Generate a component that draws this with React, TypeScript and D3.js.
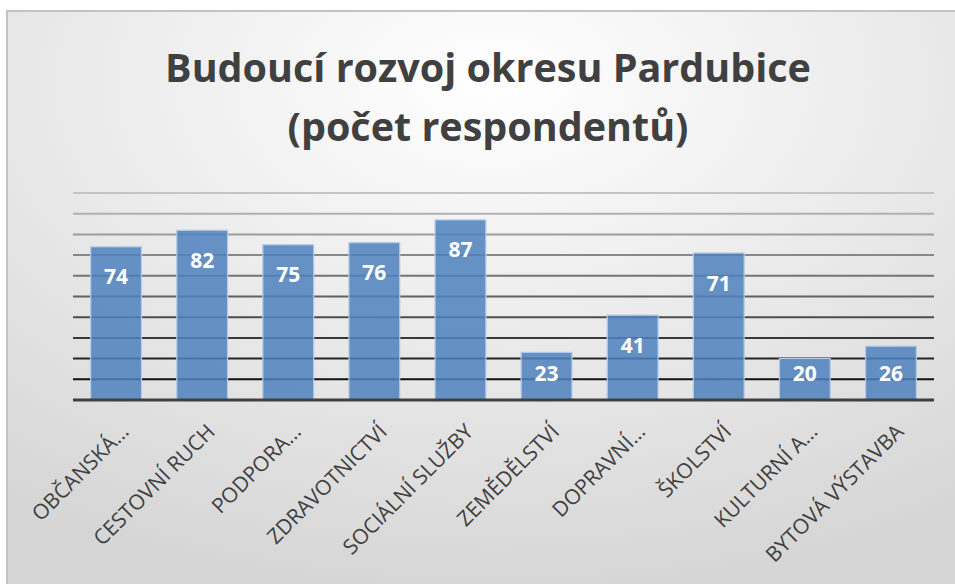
import React from 'react'
import * as d3 from 'd3'

const categories = [
  'OBČANSKÁ…',
  'CESTOVNÍ RUCH',
  'PODPORA…',
  'ZDRAVOTNICTVÍ',
  'SOCIÁLNÍ SLUŽBY',
  'ZEMĚDĚLSTVÍ',
  'DOPRAVNÍ…',
  'ŠKOLSTVÍ',
  'KULTURNÍ A…',
  'BYTOVÁ VÝSTAVBA',
]
const values = [74, 82, 75, 76, 87, 23, 41, 71, 20, 26]
const gridTicks = [10, 20, 30, 40, 50, 60, 70, 80, 90, 100]
const titleLines = ['Budoucí rozvoj okresu Pardubice', '(počet respondentů)']

const W = 955
const H = 584
const layout = { left: 73, right: 934, top: 193, bottom: 400 }

export default function App() {
  const x = d3.scaleBand()
    .domain(categories)
    .range([layout.left, layout.right])
    .paddingInner(0.41)
    .paddingOuter(0.205)

  const y = d3.scaleLinear()
    .domain([0, 100])
    .range([layout.bottom, layout.top])

  // gridlines go from light gray at the top to black near the axis
  const gridColor = d3.scaleLinear<string>()
    .domain([100, 10])
    .range(['#c4c4c4', '#111111'])

  const font = '"Open Sans", Lato, sans-serif'

  return (
    <svg width={W} height={H} style={{ position: 'absolute', left: 0, top: 0 }}>
      <defs>
        <radialGradient id="bg" cx="0.5" cy="0.12" r="0.85" fx="0.5" fy="0.12">
          <stop offset="0" stopColor="#ffffff" />
          <stop offset="1" stopColor="#d6d6d6" />
        </radialGradient>
      </defs>
      <rect x={7} y={11} width={970} height={600} fill="url(#bg)" stroke="#c3c3c3" strokeWidth={2} />

      {titleLines.map((t, i) => (
        <text key={i} x={488} y={82 + i * 59} textAnchor="middle"
          fontFamily={font} fontWeight="bold" fontSize={39.5} fill="#404040">{t}</text>
      ))}

      <g>
        {gridTicks.map(t => (
          <line key={t} x1={layout.left} x2={layout.right} y1={y(t)} y2={y(t)}
            stroke={gridColor(t)} strokeWidth={2} />
        ))}
      </g>

      <g>
        {values.map((v, i) => (
          <rect key={i} x={x(categories[i])} y={y(v)} width={x.bandwidth()} height={y(0) - y(v)}
            fill="#4f81bd" fillOpacity={0.86} stroke="#b4cbe6" strokeWidth={1.2} />
        ))}
      </g>

      <line x1={layout.left} x2={layout.right} y1={y(0)} y2={y(0)} stroke="#404040" strokeWidth={3} />

      <g>
        {values.map((v, i) => (
          <text key={i} x={(x(categories[i]) ?? 0) + x.bandwidth() / 2}
            y={Math.min(y(v) + 30, y(0) - 27)} dy="0.36em" textAnchor="middle"
            fontFamily={font} fontWeight="bold" fontSize={21} fill="#ffffff">{v}</text>
        ))}
      </g>

      <g>
        {categories.map(c => {
          const cx = (x(c) ?? 0) + x.bandwidth() / 2
          return (
            <text key={c} transform={`translate(${cx + 14},${433}) rotate(-45)`}
              textAnchor="end" fontFamily={font} fontSize={21} fill="#404040">{c}</text>
          )
        })}
      </g>
    </svg>
  )
}
